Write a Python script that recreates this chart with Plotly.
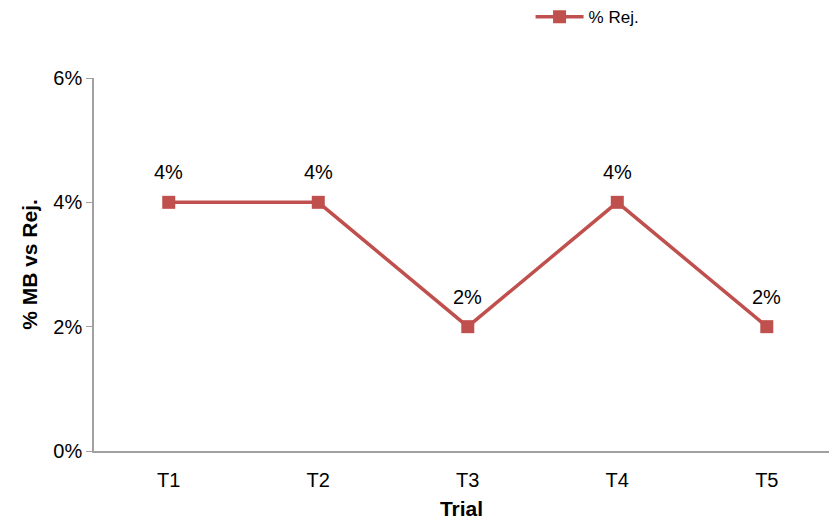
import plotly.graph_objects as go

categories = ["T1", "T2", "T3", "T4", "T5"]
values = [0.04, 0.04, 0.02, 0.04, 0.02]
labels = ["4%", "4%", "2%", "4%", "2%"]
series_name = "% Rej."

color = "#C0504D"
font = "Liberation Sans, Arial, sans-serif"
xs = list(range(len(categories)))

fig = go.Figure()
fig.add_trace(go.Scatter(
    x=xs, y=values, mode="lines+markers",
    name=series_name,
    line=dict(color=color, width=3.5),
    marker=dict(symbol="square", size=13, color=color),
    cliponaxis=False,
))

for xv, yv, lab in zip(xs, values, labels):
    fig.add_annotation(x=xv, y=yv, text=lab, showarrow=False,
                       yanchor="middle", yshift=30,
                       font=dict(size=20, color="#000000", family=font))

fig.update_layout(
    width=829, height=522,
    margin=dict(l=94, r=0, t=78, b=71, autoexpand=False),
    paper_bgcolor="white", plot_bgcolor="white",
    font=dict(family=font, color="#000000", size=20),
    showlegend=True,
    legend=dict(xref="container", yref="container", x=0.64, y=0.967,
                xanchor="left", yanchor="middle", itemwidth=48,
                orientation="h", font=dict(size=17, family=font),
                bgcolor="rgba(0,0,0,0)"),
    xaxis=dict(
        range=[-0.5, 4.416], tickmode="array",
        tickvals=xs, ticktext=categories,
        showgrid=False, zeroline=False, showline=True,
        linecolor="#A0A0A0", linewidth=1.5, ticks="",
        tickfont=dict(size=20), ticklabelstandoff=10,
        title=dict(text="<b>Trial</b>", font=dict(size=21), standoff=12),
    ),
    yaxis=dict(
        range=[0, 0.06], tickvals=[0, 0.02, 0.04, 0.06], tickformat=".0%",
        showgrid=False, zeroline=False, showline=True,
        linecolor="#A0A0A0", linewidth=1.5, ticks="outside", ticklen=6,
        tickcolor="#A0A0A0", tickfont=dict(size=20),
        title=dict(text="<b>% MB vs Rej.</b>", font=dict(size=21), standoff=10),
    ),
)

fig.write_html("out.html")
